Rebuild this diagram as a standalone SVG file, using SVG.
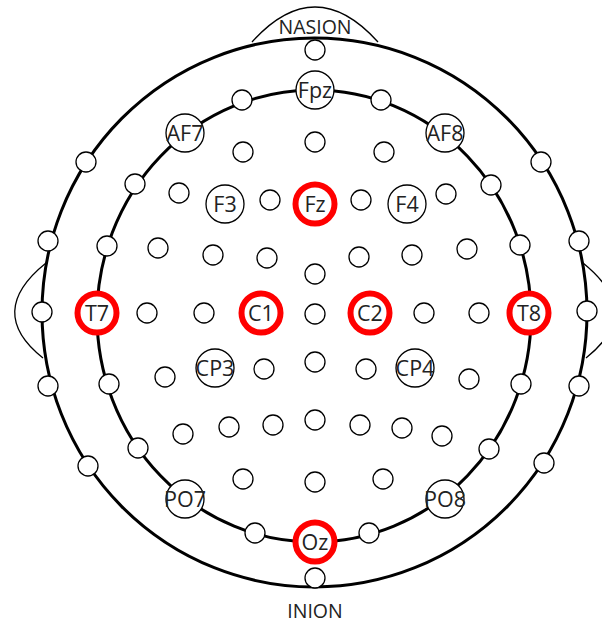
<svg xmlns="http://www.w3.org/2000/svg" width="602" height="625" viewBox="0 0 602 625">
<style>
.head{fill:none;stroke:#000;stroke-width:3}
.thin{fill:none;stroke:#000;stroke-width:1.3}
.s{fill:#fff;stroke:#000;stroke-width:1.3}
.l{fill:#fff;stroke:#000;stroke-width:1.3}
.r{fill:#fff;stroke:#f00;stroke-width:6}
text{font-family:"Open Sans","Noto Sans","DejaVu Sans",sans-serif;font-size:21.5px;fill:#222;text-anchor:middle}
.big{font-size:19.5px}
</style>
<rect width="602" height="625" fill="#fff"/>
<g id="connectors">
<path class="thin" d="M252,42 Q315,-28 378,42"/>
<path class="thin" d="M46,263 Q-15,312 43,358"/>
<path class="thin" d="M583,263 Q644,312 586,358"/>
<ellipse class="head" cx="314.5" cy="312.5" rx="272.5" ry="274.5"/>
<ellipse class="head" cx="314" cy="316" rx="217" ry="226"/>
</g>
<g id="labels">
<text class="big" x="315" y="34">NASION</text>
<text class="big" x="315" y="618">INION</text>
</g>
<g id="e_nasion"><circle class="s" cx="315" cy="50" r="10"/></g>
<g id="e1"><circle class="s" cx="242" cy="100" r="10"/></g>
<g id="e2"><circle class="s" cx="381" cy="100" r="10"/></g>
<g id="e3"><circle class="s" cx="315" cy="142" r="10"/></g>
<g id="e4"><circle class="s" cx="243" cy="152" r="10"/></g>
<g id="e5"><circle class="s" cx="384" cy="152" r="10"/></g>
<g id="e6"><circle class="s" cx="86" cy="162" r="10"/></g>
<g id="e7"><circle class="s" cx="541" cy="162" r="10"/></g>
<g id="e8"><circle class="s" cx="135" cy="184" r="10"/></g>
<g id="e9"><circle class="s" cx="491" cy="185" r="10"/></g>
<g id="e10"><circle class="s" cx="179" cy="193" r="10"/></g>
<g id="e11"><circle class="s" cx="446" cy="194" r="10"/></g>
<g id="e12"><circle class="s" cx="270" cy="200" r="10"/></g>
<g id="e13"><circle class="s" cx="361" cy="200" r="10"/></g>
<g id="e14"><circle class="s" cx="48" cy="241" r="10"/></g>
<g id="e15"><circle class="s" cx="579" cy="241" r="10"/></g>
<g id="e16"><circle class="s" cx="107" cy="246" r="10"/></g>
<g id="e17"><circle class="s" cx="520" cy="245" r="10"/></g>
<g id="e18"><circle class="s" cx="158" cy="248" r="10"/></g>
<g id="e19"><circle class="s" cx="467" cy="249" r="10"/></g>
<g id="e20"><circle class="s" cx="213" cy="255" r="10"/></g>
<g id="e21"><circle class="s" cx="412" cy="255" r="10"/></g>
<g id="e22"><circle class="s" cx="267" cy="258" r="10"/></g>
<g id="e23"><circle class="s" cx="359" cy="257" r="10"/></g>
<g id="e24"><circle class="s" cx="315" cy="274" r="10"/></g>
<g id="e25"><circle class="s" cx="42" cy="312" r="10"/></g>
<g id="e26"><circle class="s" cx="587" cy="311" r="10"/></g>
<g id="e27"><circle class="s" cx="147" cy="313" r="10"/></g>
<g id="e28"><circle class="s" cx="204" cy="313" r="10"/></g>
<g id="e29"><circle class="s" cx="315" cy="314" r="10"/></g>
<g id="e30"><circle class="s" cx="424" cy="313" r="10"/></g>
<g id="e31"><circle class="s" cx="479" cy="313" r="10"/></g>
<g id="e32"><circle class="s" cx="315" cy="362" r="10"/></g>
<g id="e33"><circle class="s" cx="264" cy="369" r="10"/></g>
<g id="e34"><circle class="s" cx="366" cy="369" r="10"/></g>
<g id="e35"><circle class="s" cx="165" cy="377" r="10"/></g>
<g id="e36"><circle class="s" cx="469" cy="379" r="10"/></g>
<g id="e37"><circle class="s" cx="109" cy="384" r="10"/></g>
<g id="e38"><circle class="s" cx="521" cy="384" r="10"/></g>
<g id="e39"><circle class="s" cx="48" cy="386" r="10"/></g>
<g id="e40"><circle class="s" cx="579" cy="386" r="10"/></g>
<g id="e41"><circle class="s" cx="315" cy="420" r="10"/></g>
<g id="e42"><circle class="s" cx="273" cy="425" r="10"/></g>
<g id="e43"><circle class="s" cx="360" cy="425" r="10"/></g>
<g id="e44"><circle class="s" cx="229" cy="427" r="10"/></g>
<g id="e45"><circle class="s" cx="402" cy="428" r="10"/></g>
<g id="e46"><circle class="s" cx="183" cy="434" r="10"/></g>
<g id="e47"><circle class="s" cx="442" cy="436" r="10"/></g>
<g id="e48"><circle class="s" cx="138" cy="448" r="10"/></g>
<g id="e49"><circle class="s" cx="489" cy="449" r="10"/></g>
<g id="e50"><circle class="s" cx="88" cy="466" r="10"/></g>
<g id="e51"><circle class="s" cx="544" cy="463" r="10"/></g>
<g id="e52"><circle class="s" cx="243" cy="479" r="10"/></g>
<g id="e53"><circle class="s" cx="383" cy="479" r="10"/></g>
<g id="e54"><circle class="s" cx="315" cy="482" r="10"/></g>
<g id="e55"><circle class="s" cx="255" cy="533" r="10"/></g>
<g id="e56"><circle class="s" cx="369" cy="533" r="10"/></g>
<g id="e_inion"><circle class="s" cx="315" cy="578" r="10"/></g>
<g id="Fpz"><circle class="l" cx="315" cy="90" r="19"/><text x="315" y="97.5">Fpz</text></g>
<g id="AF7"><circle class="l" cx="185" cy="133" r="19"/><text x="185" y="141">AF7</text></g>
<g id="AF8"><circle class="l" cx="445" cy="133" r="19"/><text x="445" y="141">AF8</text></g>
<g id="F3"><circle class="l" cx="225" cy="204" r="19"/><text x="225" y="212">F3</text></g>
<g id="F4"><circle class="l" cx="407" cy="204" r="19"/><text x="407" y="212">F4</text></g>
<g id="CP3"><circle class="l" cx="215" cy="368" r="19"/><text x="215" y="376">CP3</text></g>
<g id="CP4"><circle class="l" cx="415" cy="368" r="19"/><text x="415" y="376">CP4</text></g>
<g id="PO7"><circle class="l" cx="185" cy="499" r="19"/><text x="185" y="507">PO7</text></g>
<g id="PO8"><circle class="l" cx="445" cy="499" r="19"/><text x="445" y="507">PO8</text></g>
<g id="Fz"><circle class="r" cx="315" cy="204" r="19.5"/><text x="315" y="212">Fz</text></g>
<g id="T7"><circle class="r" cx="97" cy="313" r="19.5"/><text x="97" y="321">T7</text></g>
<g id="C1"><circle class="r" cx="261" cy="313" r="19.5"/><text x="261" y="321">C1</text></g>
<g id="C2"><circle class="r" cx="370" cy="313" r="19.5"/><text x="370" y="321">C2</text></g>
<g id="T8"><circle class="r" cx="529" cy="313" r="19.5"/><text x="529" y="321">T8</text></g>
<g id="Oz"><circle class="r" cx="315" cy="542" r="19.5"/><text x="315" y="550">Oz</text></g>
</svg>
